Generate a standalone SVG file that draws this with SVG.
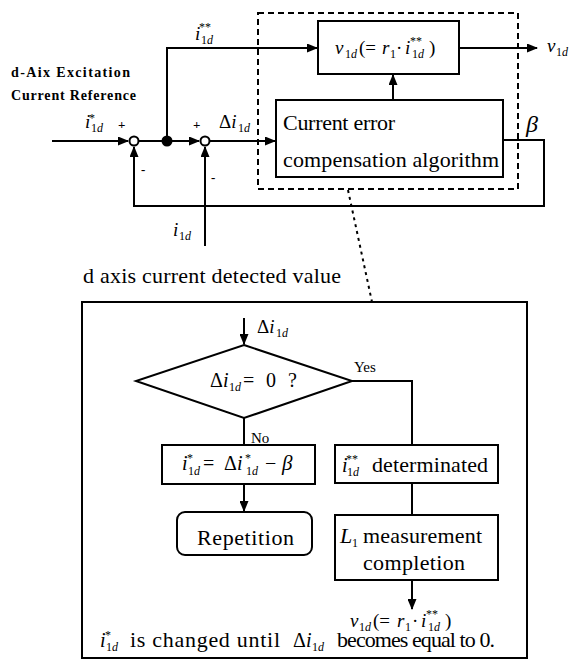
<svg xmlns="http://www.w3.org/2000/svg" width="569" height="671" viewBox="0 0 569 671">
<defs>
<marker id="ah" markerUnits="userSpaceOnUse" markerWidth="11" markerHeight="9" refX="10" refY="4.5" orient="auto">
<path d="M0,0L11,4.5L0,9z" fill="#000"/>
</marker>
</defs>

<!-- signal lines of the control loop -->
<g id="connectors" fill="none" stroke="#000" stroke-width="2">
<path d="M52,141H128" marker-end="url(#ah)"/>
<path d="M139,141H199" marker-end="url(#ah)"/>
<path d="M167,141V48H317" marker-end="url(#ah)"/>
<path d="M210,141H275" marker-end="url(#ah)"/>
<path d="M393,100V75" marker-end="url(#ah)"/>
<path d="M459,48H537" marker-end="url(#ah)"/>
<path d="M503,140H544V206H134V147" marker-end="url(#ah)"/>
<path d="M205,246V147" marker-end="url(#ah)"/>
<path d="M348,190L372,302" stroke-dasharray="3 4"/>
<!-- flowchart links -->
<path d="M244,318V344" marker-end="url(#ah)"/>
<path d="M244,418V445"/>
<path d="M352,381H412V445"/>
<path d="M244,484V511" marker-end="url(#ah)"/>
<path d="M412,483V515"/>
<path d="M412,580V609" marker-end="url(#ah)"/>
</g>

<!-- dashed frame around the compensation stage -->
<rect x="258" y="13" width="260" height="176" fill="none" stroke="#000" stroke-width="2" stroke-dasharray="6 4"/>

<g id="label-ref">
<text style="font-family:'Liberation Serif',serif" font-size="14" font-weight="bold" x="11" y="77" textLength="119">d-Aix Excitation</text>
<text style="font-family:'Liberation Serif',serif" font-size="14" font-weight="bold" x="11" y="100" textLength="125">Current Reference</text>
</g>

<g id="sum1">
<circle cx="134" cy="141" r="4.5" fill="#fff" stroke="#000" stroke-width="2"/>
<text style="font-family:'Liberation Serif',serif" font-size="13" font-weight="bold" x="118" y="129">+</text>
<text style="font-family:'Liberation Serif',serif" font-size="13" font-weight="bold" x="141" y="174">-</text>
</g>
<g id="branch">
<circle cx="167" cy="141" r="5.5" fill="#000"/>
</g>
<g id="sum2">
<circle cx="205" cy="141" r="4.5" fill="#fff" stroke="#000" stroke-width="2"/>
<text style="font-family:'Liberation Serif',serif" font-size="13" font-weight="bold" x="193" y="129">+</text>
<text style="font-family:'Liberation Serif',serif" font-size="13" font-weight="bold" x="211" y="182">-</text>
</g>

<!-- signal labels -->
<g id="signal-labels">
<text style="font-family:'Liberation Serif',serif" font-size="19" font-style="italic" x="85" y="128">i</text>
<text style="font-family:'Liberation Serif',serif" font-size="12" x="89" y="122">*</text>
<text style="font-family:'Liberation Serif',serif" font-size="12" x="91" y="132">1<tspan font-style="italic">d</tspan></text>
<text style="font-family:'Liberation Serif',serif" font-size="19" font-style="italic" x="195" y="40">i</text>
<text style="font-family:'Liberation Serif',serif" font-size="12" x="199" y="31">**</text>
<text style="font-family:'Liberation Serif',serif" font-size="12" x="201" y="44">1<tspan font-style="italic">d</tspan></text>
<text style="font-family:'Liberation Serif',serif" font-size="19" x="219" y="128">Δ<tspan font-style="italic">i</tspan></text>
<text style="font-family:'Liberation Serif',serif" font-size="12" x="238" y="132">1<tspan font-style="italic">d</tspan></text>
<text style="font-family:'Liberation Serif',serif" font-size="19" font-style="italic" x="173" y="236">i</text>
<text style="font-family:'Liberation Serif',serif" font-size="12" x="179" y="240">1<tspan font-style="italic">d</tspan></text>
<text style="font-family:'Liberation Serif',serif" font-size="19" font-style="italic" x="547" y="52">v</text>
<text style="font-family:'Liberation Serif',serif" font-size="12" x="556" y="56">1<tspan font-style="italic">d</tspan></text>
<text style="font-family:'Liberation Serif',serif" font-size="24" font-style="italic" x="526" y="132">β</text>
<text style="font-family:'Liberation Serif',serif" font-size="22" x="83" y="283" textLength="258">d axis current detected value</text>
</g>

<g id="v1d-block">
<rect x="318" y="21" width="141" height="53" fill="#fff" stroke="#000" stroke-width="2"/>
<text style="font-family:'Liberation Serif',serif" font-size="19" font-style="italic" x="335" y="54">v</text>
<text style="font-family:'Liberation Serif',serif" font-size="12" x="345" y="58">1<tspan font-style="italic">d</tspan></text>
<text style="font-family:'Liberation Serif',serif" font-size="19" x="359" y="54">(=</text>
<text style="font-family:'Liberation Serif',serif" font-size="19" font-style="italic" x="382" y="54">r</text>
<text style="font-family:'Liberation Serif',serif" font-size="12" x="390" y="58">1</text>
<text style="font-family:'Liberation Serif',serif" font-size="19" x="396" y="54">·</text>
<text style="font-family:'Liberation Serif',serif" font-size="19" font-style="italic" x="405" y="54">i</text>
<text style="font-family:'Liberation Serif',serif" font-size="12" x="410" y="45">**</text>
<text style="font-family:'Liberation Serif',serif" font-size="12" x="412" y="58">1<tspan font-style="italic">d</tspan></text>
<text style="font-family:'Liberation Serif',serif" font-size="19" x="429" y="54">)</text>
</g>

<g id="compensation-block">
<rect x="276" y="100" width="227" height="77" fill="#fff" stroke="#000" stroke-width="2"/>
<text style="font-family:'Liberation Serif',serif" font-size="22" x="283" y="130" textLength="112">Current error</text>
<text style="font-family:'Liberation Serif',serif" font-size="22" x="283" y="167" textLength="216">compensation algorithm</text>
</g>

<!-- flowchart of the compensation algorithm -->
<g id="flowchart-frame">
<rect x="82" y="302" width="445" height="356" fill="none" stroke="#000" stroke-width="2"/>
<text style="font-family:'Liberation Serif',serif" font-size="19" x="257" y="333">Δ<tspan font-style="italic">i</tspan></text>
<text style="font-family:'Liberation Serif',serif" font-size="12" x="276" y="337">1<tspan font-style="italic">d</tspan></text>
</g>

<g id="decision">
<path d="M244,345L352,381L244,418L136,381z" fill="none" stroke="#000" stroke-width="2"/>
<text style="font-family:'Liberation Serif',serif" font-size="20" x="210" y="387">Δ<tspan font-style="italic">i</tspan></text>
<text style="font-family:'Liberation Serif',serif" font-size="12" x="229" y="391">1<tspan font-style="italic">d</tspan></text>
<text style="font-family:'Liberation Serif',serif" font-size="20" x="243" y="387">=</text>
<text style="font-family:'Liberation Serif',serif" font-size="20" x="266" y="387">0</text>
<text style="font-family:'Liberation Serif',serif" font-size="20" x="288" y="387">?</text>
<text style="font-family:'Liberation Serif',serif" font-size="15" x="354" y="372">Yes</text>
<text style="font-family:'Liberation Serif',serif" font-size="15" x="251" y="443">No</text>
</g>

<g id="update-step">
<rect x="162" y="445" width="153" height="39" fill="#fff" stroke="#000" stroke-width="2"/>
<text style="font-family:'Liberation Serif',serif" font-size="20" font-style="italic" x="182" y="470">i</text>
<text style="font-family:'Liberation Serif',serif" font-size="12" x="187" y="462">*</text>
<text style="font-family:'Liberation Serif',serif" font-size="12" x="188" y="475">1<tspan font-style="italic">d</tspan></text>
<text style="font-family:'Liberation Serif',serif" font-size="20" x="203" y="470">=</text>
<text style="font-family:'Liberation Serif',serif" font-size="20" x="224" y="470">Δ<tspan font-style="italic">i</tspan></text>
<text style="font-family:'Liberation Serif',serif" font-size="12" x="245" y="462">*</text>
<text style="font-family:'Liberation Serif',serif" font-size="12" x="246" y="475">1<tspan font-style="italic">d</tspan></text>
<text style="font-family:'Liberation Serif',serif" font-size="20" x="265" y="470">−</text>
<text style="font-family:'Liberation Serif',serif" font-size="21" font-style="italic" x="282" y="470">β</text>
</g>

<g id="repetition">
<rect x="177" y="512" width="135" height="43" rx="8" fill="#fff" stroke="#000" stroke-width="2"/>
<text style="font-family:'Liberation Serif',serif" font-size="22" x="197" y="545" textLength="97">Repetition</text>
</g>

<g id="determined-step">
<rect x="335" y="445" width="163" height="38" fill="#fff" stroke="#000" stroke-width="2"/>
<text style="font-family:'Liberation Serif',serif" font-size="20" font-style="italic" x="342" y="472">i</text>
<text style="font-family:'Liberation Serif',serif" font-size="12" x="346" y="463">**</text>
<text style="font-family:'Liberation Serif',serif" font-size="12" x="347" y="476">1<tspan font-style="italic">d</tspan></text>
<text style="font-family:'Liberation Serif',serif" font-size="22" x="372" y="472" textLength="116">determinated</text>
</g>

<g id="measurement-step">
<rect x="335" y="515" width="163" height="65" fill="#fff" stroke="#000" stroke-width="2"/>
<text style="font-family:'Liberation Serif',serif" font-size="22" font-style="italic" x="340" y="543">L</text>
<text style="font-family:'Liberation Serif',serif" font-size="12" x="352" y="547">1</text>
<text style="font-family:'Liberation Serif',serif" font-size="22" x="363" y="543" textLength="119">measurement</text>
<text style="font-family:'Liberation Serif',serif" font-size="22" x="363" y="570" textLength="102">completion</text>
</g>

<g id="result">
<text style="font-family:'Liberation Serif',serif" font-size="19" font-style="italic" x="350" y="627">v</text>
<text style="font-family:'Liberation Serif',serif" font-size="12" x="359" y="631">1<tspan font-style="italic">d</tspan></text>
<text style="font-family:'Liberation Serif',serif" font-size="19" x="373" y="627">(=</text>
<text style="font-family:'Liberation Serif',serif" font-size="19" font-style="italic" x="397" y="627">r</text>
<text style="font-family:'Liberation Serif',serif" font-size="12" x="405" y="631">1</text>
<text style="font-family:'Liberation Serif',serif" font-size="19" x="412" y="627">·</text>
<text style="font-family:'Liberation Serif',serif" font-size="19" font-style="italic" x="421" y="627">i</text>
<text style="font-family:'Liberation Serif',serif" font-size="12" x="426" y="618">**</text>
<text style="font-family:'Liberation Serif',serif" font-size="12" x="428" y="631">1<tspan font-style="italic">d</tspan></text>
<text style="font-family:'Liberation Serif',serif" font-size="19" x="445" y="627">)</text>
</g>

<g id="note">
<text style="font-family:'Liberation Serif',serif" font-size="20" font-style="italic" x="100" y="647">i</text>
<text style="font-family:'Liberation Serif',serif" font-size="12" x="105" y="639">*</text>
<text style="font-family:'Liberation Serif',serif" font-size="12" x="106" y="651">1<tspan font-style="italic">d</tspan></text>
<text style="font-family:'Liberation Serif',serif" font-size="22" x="130" y="647" textLength="150">is changed until</text>
<text style="font-family:'Liberation Serif',serif" font-size="20" x="293" y="647">Δ<tspan font-style="italic">i</tspan></text>
<text style="font-family:'Liberation Serif',serif" font-size="12" x="312" y="651">1<tspan font-style="italic">d</tspan></text>
<text style="font-family:'Liberation Serif',serif" font-size="22" x="337" y="647" textLength="158">becomes equal to 0.</text>
</g>
</svg>
